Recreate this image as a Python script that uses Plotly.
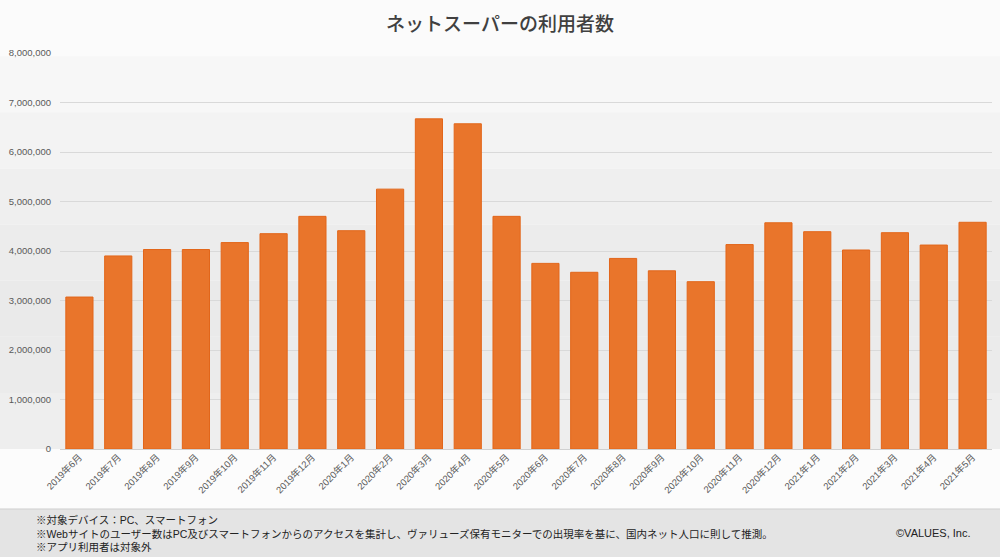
import plotly.graph_objects as go

# monthly users of online supermarkets
months = [
    "2019年6月", "2019年7月", "2019年8月", "2019年9月", "2019年10月", "2019年11月",
    "2019年12月", "2020年1月", "2020年2月", "2020年3月", "2020年4月", "2020年5月",
    "2020年6月", "2020年7月", "2020年8月", "2020年9月", "2020年10月", "2020年11月",
    "2020年12月", "2021年1月", "2021年2月", "2021年3月", "2021年4月", "2021年5月",
]
users = [
    3070000, 3900000, 4030000, 4030000, 4170000, 4350000,
    4700000, 4410000, 5250000, 6670000, 6570000, 4700000,
    3750000, 3570000, 3850000, 3600000, 3380000, 4130000,
    4570000, 4390000, 4020000, 4370000, 4120000, 4580000,
]
y_ticks = list(range(0, 8000001, 1000000))

notes = [
    "※対象デバイス：PC、スマートフォン",
    "※Webサイトのユーザー数はPC及びスマートフォンからのアクセスを集計し、ヴァリューズ保有モニターでの出現率を基に、国内ネット人口に則して推測。",
    "※アプリ利用者は対象外",
]

FONT = "Liberation Sans, Noto Sans CJK JP, sans-serif"
W, H = 1000, 557
L, R, T, B = 60, 8, 53, 108
PW, PH = W - L - R, H - T - B


def px_x(p):
    return (p - L) / PW


def px_y(p):
    return (H - B - p) / PH


fig = go.Figure(go.Bar(
    x=months,
    y=users,
    marker=dict(color="#e9752b", line=dict(color="#e2661a", width=1)),
    hovertemplate="%{x}: %{y:,}<extra></extra>",
))

# soft grey gradient behind the plot, plus the footer band
shapes = []
bands = ["#fbfbfb", "#f7f7f7", "#f3f3f3", "#efefef", "#ececec", "#eaeaea", "#ebebeb", "#eeeeee"]
top, bottom = 0, H - B
step = (bottom - top) / len(bands)
for i, c in enumerate(bands):
    shapes.append(dict(
        type="rect", xref="paper", yref="paper", layer="below", line_width=0,
        x0=px_x(0), x1=px_x(W), y0=px_y(top + (i + 1) * step), y1=px_y(top + i * step),
        fillcolor=c,
    ))
shapes.append(dict(
    type="rect", xref="paper", yref="paper", layer="below",
    line=dict(color="#cfcfcf", width=1),
    x0=px_x(-2), x1=px_x(W + 2), y0=px_y(H + 2), y1=px_y(509),
    fillcolor="#e4e4e4",
))

annotations = []
for i, line in enumerate(notes):
    annotations.append(dict(
        text=line, xref="paper", yref="paper", showarrow=False,
        x=px_x(34), y=px_y(520 + i * 13.5), xanchor="left", yanchor="middle",
        font=dict(family=FONT, size=10.5, color="#222222"),
    ))
annotations.append(dict(
    text="©VALUES, Inc.", xref="paper", yref="paper", showarrow=False,
    x=px_x(973), y=px_y(533), xanchor="right", yanchor="middle",
    font=dict(family=FONT, size=11, color="#222222"),
))

fig.update_layout(
    width=W, height=H,
    margin=dict(l=L, r=R, t=T, b=B),
    paper_bgcolor="#fcfcfc",
    plot_bgcolor="rgba(0,0,0,0)",
    title=dict(
        text="ネットスーパーの利用者数",
        x=0.5, xanchor="center", y=1 - 24 / H, yanchor="middle",
        font=dict(family="Noto Sans CJK JP", size=19, color="#404040", weight=500),
    ),
    bargap=0.3,
    showlegend=False,
    shapes=shapes,
    annotations=annotations,
    xaxis=dict(
        range=[-0.5, len(months) - 0.5],
        tickangle=-45,
        tickfont=dict(family=FONT, size=9.5, color="#595959"),
        showgrid=False, showline=False, ticks="",
    ),
    yaxis=dict(
        range=[0, 8000000],
        tickvals=y_ticks,
        tickformat=",d",
        tickfont=dict(family=FONT, size=9.5, color="#595959"),
        gridcolor="#d9d9d9", gridwidth=1,
        zeroline=True, zerolinecolor="#d0d0d0", zerolinewidth=1,
        showline=False, ticks="", ticklabelstandoff=8,
    ),
)

# drop the browser's default 8px body margin so the chart sits flush
fig.write_html(
    "out.html",
    config={"displayModeBar": False},
    post_script="document.body.style.margin='0';",
)
